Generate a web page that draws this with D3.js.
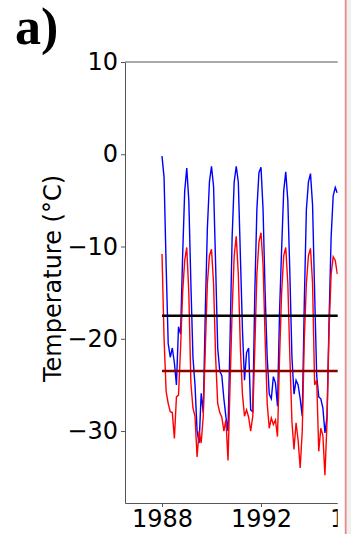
<!DOCTYPE html>
<html>
<head>
<meta charset="utf-8">
<script src="https://cdn.jsdelivr.net/npm/d3@7"></script>
<style>
  body { margin: 0; background: #fff; }
  svg { display: block; }
</style>
</head>
<body>
<svg id="chart"></svg>
<script>
// monthly values, Jan 1988 onwards
const startYear = 1988;
const warmSeries = [
  -0.2, -2.5, -12, -20.5, -22, -21, -22.6, -25, -18.7, -19.5, -11, -4,
  -1.5, -5, -14, -22, -25, -30, -31.3, -25.9, -28, -17, -8, -3,
  -1.3, -3.5, -12, -21, -23.5, -24, -26.5, -28.5, -30, -20, -9, -3,
  -1.3, -3, -11, -19, -24.5, -21.5, -21, -27.7, -27.9, -15, -6, -2,
  -1.4, -6, -15, -22, -26, -26.5, -24.1, -24.8, -27.3, -17, -10.3, -4,
  -1.9, -5, -13, -22, -26, -24.5, -25, -26.5, -28.4, -16, -6, -3,
  -2.1, -5.5, -15, -24, -26.3, -26.5, -27.5, -30.2, -28.5, -18, -9, -4.5,
  -3.6, -4.2
];
const coldSeries = [
  -10.8, -20, -25.7, -27, -27.9, -28, -30.8, -26.3, -26.1, -21, -15, -11.5,
  -10.1, -15, -24.8, -27.5, -28.4, -32.8, -30, -31.3, -28.4, -21, -14, -11,
  -10.3, -14, -22, -27, -28, -28.5, -30, -28.8, -33.2, -25, -17, -11,
  -8.9, -13, -21, -26, -28.4, -27.7, -28.5, -30, -28.4, -21, -13, -9.5,
  -8.5, -12, -20, -27, -29.7, -28.6, -29.3, -28.8, -30.6, -22, -15, -11,
  -10.1, -14, -22, -29, -32, -29.1, -31, -34, -30, -20, -14, -11,
  -10.2, -14, -25, -24.5, -32.2, -29.7, -30.5, -34.8, -29, -19, -13, -11.1,
  -11.5, -13
];
const warmMean = -17.5;
const coldMean = -23.5;
const xTicks = [1988, 1992, 1996];
const yTicks = [10, 0, -10, -20, -30];

class TempChart {
    constructor(_config) {
        this.config = {
            parentElement: _config.parentElement,
            containerWidth: _config.containerWidth || 351,
            containerHeight: _config.containerHeight || 534,
        }
        this.config.margin = _config.margin || { top: 62, bottom: 31, left: 125 }
        this.initVis();
    }

    initVis() {
        let vis = this;
        vis.height = vis.config.containerHeight - vis.config.margin.top - vis.config.margin.bottom;

        let svg = d3.select(vis.config.parentElement)
            .attr("width", vis.config.containerWidth)
            .attr("height", vis.config.containerHeight);

        // the panel is cut off on the right
        svg.append("clipPath").attr("id", "cut")
            .append("rect").attr("x", 0).attr("y", 0).attr("width", 337.7).attr("height", vis.config.containerHeight);

        svg.append("rect")
            .attr("x", 347).attr("y", 0).attr("width", 4).attr("height", vis.config.containerHeight)
            .attr("fill", "#f1f0f0");
        svg.append("line")
            .attr("x1", 345.7).attr("x2", 345.7).attr("y1", 0).attr("y2", vis.config.containerHeight)
            .attr("stroke", "#e58a8a").attr("stroke-width", 1.8);

        svg.append("text")
            .attr("x", 15).attr("y", 44)
            .attr("font-family", "Liberation Serif, serif")
            .attr("font-weight", "bold")
            .attr("font-size", 52)
            .text("a)");

        vis.root = svg.append("g").attr("clip-path", "url(#cut)");
        vis.chart = vis.root.append("g")
            .attr("transform", `translate(${vis.config.margin.left},${vis.config.margin.top})`);

        // 24.75 px per year, 1988 sits 37px right of the spine
        vis.xScale = d3.scaleLinear()
            .domain([1986.505, 1995.5])
            .range([0, (1995.5 - 1986.505) * 24.75]);
        vis.yScale = d3.scaleLinear()
            .domain([-37.8, 10])
            .range([vis.height, 0]);

        vis.xAxis = d3.axisBottom(vis.xScale)
            .tickValues(xTicks)
            .tickFormat(d3.format("d"))
            .tickSize(4).tickSizeOuter(0).tickPadding(3);
        vis.yAxis = d3.axisLeft(vis.yScale)
            .tickValues(yTicks)
            .tickSize(4).tickSizeOuter(0).tickPadding(3);

        vis.chart.append("text")
            .attr("transform", `translate(${61 - vis.config.margin.left},${vis.height / 2 - 4}) rotate(-90)`)
            .attr("text-anchor", "middle")
            .attr("font-family", "DejaVu Sans")
            .attr("font-size", 24)
            .text("Temperature (°C)");

        vis.update();
    }

    update() {
        let vis = this;
        vis.warmData = warmSeries.map((v, i) => ({ t: startYear + i / 12, v: v }));
        vis.coldData = coldSeries.map((v, i) => ({ t: startYear + i / 12, v: v }));
        vis.line = d3.line().x(d => vis.xScale(d.t)).y(d => vis.yScale(d.v));
        vis.render();
    }

    render() {
        let vis = this;
        let w = vis.xScale.range()[1];

        // top spine
        vis.chart.append("line")
            .attr("x1", 0).attr("x2", w).attr("y1", 0).attr("y2", 0)
            .attr("stroke", "#555").attr("stroke-width", 1);

        vis.chart.append("path").datum(vis.warmData)
            .attr("fill", "none").attr("stroke", "#0000ff").attr("stroke-width", 1.4)
            .attr("d", vis.line);
        vis.chart.append("path").datum(vis.coldData)
            .attr("fill", "none").attr("stroke", "#ff0000").attr("stroke-width", 1.4)
            .attr("d", vis.line);

        vis.chart.append("line")
            .attr("x1", vis.xScale(startYear)).attr("x2", w)
            .attr("y1", vis.yScale(warmMean)).attr("y2", vis.yScale(warmMean))
            .attr("stroke", "#000").attr("stroke-width", 2.5);
        vis.chart.append("line")
            .attr("x1", vis.xScale(startYear)).attr("x2", w)
            .attr("y1", vis.yScale(coldMean)).attr("y2", vis.yScale(coldMean))
            .attr("stroke", "#8b0000").attr("stroke-width", 2.5);

        let axisX = vis.chart.append("g")
            .attr("transform", `translate(0,${vis.height})`)
            .call(vis.xAxis);
        let axisY = vis.chart.append("g").call(vis.yAxis);

        [axisX, axisY].forEach(g => {
            g.selectAll("path, line").attr("stroke", "#555");
            g.selectAll("text")
                .attr("font-family", "DejaVu Sans")
                .attr("font-size", 24)
                .attr("fill", "#000");
        });
    }
}

new TempChart({ parentElement: "#chart" });
</script>
</body>
</html>
